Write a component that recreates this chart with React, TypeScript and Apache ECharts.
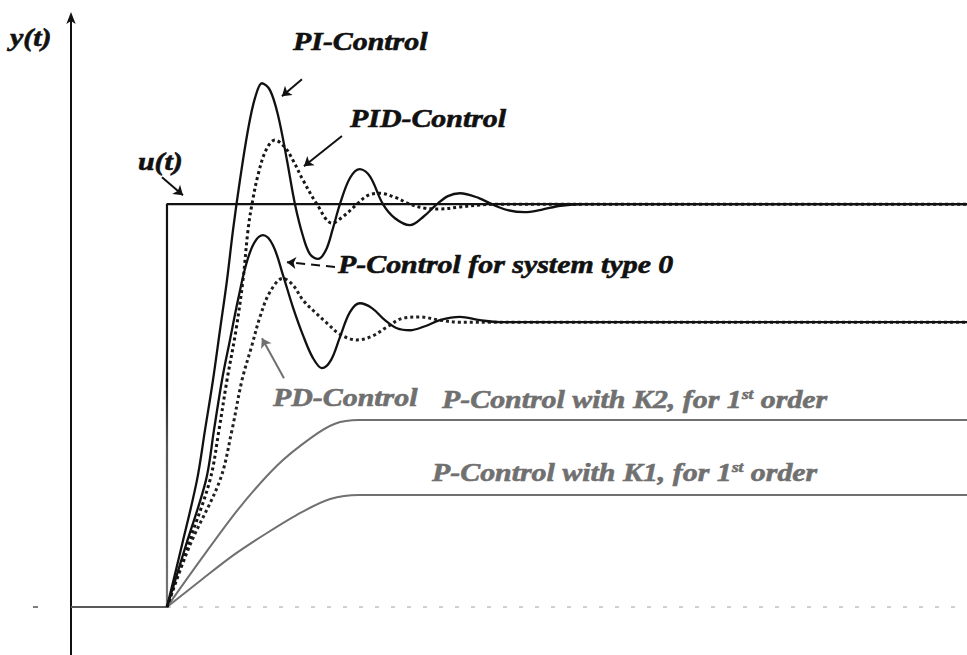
import React, { useEffect, useRef } from "react";
import * as echarts from "echarts";

// Time axis (arbitrary units, step applied at t = 0) and normalized response (u = 1)
const T_START = -2;
const T_END = 16.67;
const Y_LOW = -0.119;
const Y_HIGH = 1.462;

const baselineBefore: number[][] = [[-2, 0], [0, 0]];
const baselineAfter: number[][] = [[0, 0], [16.67, 0]];
const inputStep: number[][] = [[0, 0], [0, 1], [16.67, 1]];

const piControl: number[][] = [
  [0, 0], [0.3125, 0.154], [0.625, 0.315], [0.792, 0.439], [0.958, 0.563], [1.104, 0.687],
  [1.25, 0.811], [1.375, 0.935], [1.521, 1.06], [1.6875, 1.184], [1.833, 1.263], [1.979, 1.3],
  [2.146, 1.283], [2.3125, 1.221], [2.5, 1.109], [2.667, 1.0], [2.833, 0.921], [2.979, 0.876],
  [3.146, 0.864], [3.3125, 0.886], [3.458, 0.94], [3.604, 1.0], [3.8125, 1.065], [4.021, 1.087],
  [4.229, 1.069], [4.5, 1.0], [4.75, 0.965], [5.0625, 0.948], [5.354, 0.97], [5.625, 1.0],
  [5.854, 1.02], [6.104, 1.027], [6.5, 1.015], [6.8, 0.998], [7.1, 0.985], [7.45, 0.98],
  [7.8, 0.986], [8.2, 0.996], [8.7, 1.0], [16.67, 1.0],
];

const pidControl: number[][] = [
  [0, 0], [0.4375, 0.154], [0.896, 0.315], [1.083, 0.439], [1.25, 0.563], [1.4375, 0.687],
  [1.583, 0.811], [1.6875, 0.935], [1.771, 1.0], [1.896, 1.072], [2.0625, 1.134], [2.25, 1.159],
  [2.458, 1.141], [2.625, 1.109], [2.833, 1.06], [3.125, 1.0], [3.4375, 0.953], [3.708, 0.973],
  [3.958, 1.0], [4.1875, 1.022], [4.4375, 1.027], [4.75, 1.017], [5.0625, 1.0], [5.375, 0.99],
  [5.6875, 0.988], [6.104, 0.993], [6.521, 0.998], [7.0, 1.0], [16.67, 1.0],
];

const pType0: number[][] = [
  [0, 0], [0.396, 0.154], [0.8125, 0.315], [0.979, 0.439], [1.146, 0.563], [1.3125, 0.663],
  [1.479, 0.762], [1.646, 0.849], [1.8125, 0.903], [2.0, 0.923], [2.208, 0.898], [2.417, 0.824],
  [2.625, 0.744], [2.833, 0.675], [3.042, 0.618], [3.229, 0.593], [3.417, 0.613], [3.604, 0.67],
  [3.8125, 0.732], [4.021, 0.754], [4.271, 0.742], [4.542, 0.712], [4.792, 0.692], [5.0625, 0.687],
  [5.375, 0.697], [5.6875, 0.712], [6.104, 0.72], [6.521, 0.712], [6.9375, 0.707], [16.67, 0.707],
];

const pdControl: number[][] = [
  [0, 0], [0.479, 0.154], [1.104, 0.315], [1.354, 0.439], [1.5625, 0.563], [1.771, 0.65],
  [1.9375, 0.72], [2.146, 0.782], [2.417, 0.816], [2.625, 0.799], [2.833, 0.762], [3.083, 0.732],
  [3.333, 0.705], [3.604, 0.677], [3.958, 0.663], [4.271, 0.672], [4.583, 0.695], [4.917, 0.717],
  [5.271, 0.72], [5.6875, 0.712], [6.104, 0.707], [16.67, 0.707],
];

const pK2: number[][] = [
  [0, 0], [0.7, 0.117], [1.5, 0.245], [2.3, 0.352], [3.0, 0.42], [3.5, 0.455],
  [4.0, 0.464], [16.67, 0.464],
];

const pK1: number[][] = [
  [0, 0], [0.7, 0.066], [1.4, 0.13], [2.1, 0.185], [2.8, 0.235],
  [3.4, 0.268], [4.0, 0.278], [16.67, 0.278],
];

// Annotation arrows: [from, to] in data coordinates
const arrowPI = [[2.8125, 1.31], [2.396, 1.268]];
const arrowPID = [[3.646, 1.169], [2.854, 1.094]];
const arrowU = [[-0.104, 1.067], [0.333, 1.022]];
const arrowType0 = [[3.5, 0.844], [2.5, 0.856]];
const arrowPD = [[2.4375, 0.568], [1.979, 0.667]];

const FONT_FAMILY = '"Liberation Serif", "DejaVu Serif", serif';
const BLACK = "#111111";
const GRAY = "#707070";

function lineSeries(name: string, data: number[][], color: any, width: number, dashed: boolean, smooth: number | boolean) {
  return {
    name,
    type: "line",
    data,
    showSymbol: false,
    symbol: "none",
    smooth,
    silent: true,
    clip: false,
    lineStyle: {
      color,
      width,
      type: dashed ? [3, 3] : "solid",
      cap: "butt",
    },
  };
}

function arrowItem(pair: number[][], color: string, dash: any) {
  const ls = { color, width: 2, type: dash };
  return [
    { coord: pair[0], symbol: "none", lineStyle: ls },
    { coord: pair[1], symbol: "arrow", lineStyle: ls },
  ];
}

function label(text: string, x: number, y: number, color: string) {
  return {
    type: "text",
    x,
    y,
    scaleX: 1.15,
    silent: true,
    style: {
      text,
      fill: color,
      stroke: color,
      lineWidth: 0.6,
      font: `italic bold 26px ${FONT_FAMILY}`,
      align: "left",
      verticalAlign: "middle",
    },
  };
}

function supLabel(main: string, num: string, tail: string, x: number, y: number, color: string) {
  const base = { fontStyle: "italic", fontWeight: "bold", fontSize: 26, fontFamily: FONT_FAMILY, fill: color };
  return {
    type: "text",
    x,
    y,
    scaleX: 1.15,
    silent: true,
    style: {
      text: `{a|${main}${num}}{s|st}{a|${tail}}`,
      fill: color,
      stroke: color,
      lineWidth: 0.6,
      font: `italic bold 26px ${FONT_FAMILY}`,
      align: "left",
      verticalAlign: "middle",
      rich: {
        a: base,
        s: { ...base, fontSize: 15, verticalAlign: "top", lineHeight: 15 },
      },
    },
  };
}

export default function App() {
  const ref = useRef<HTMLDivElement>(null);

  useEffect(() => {
    document.body.style.margin = "0";
    if (!ref.current) return;
    const chart = echarts.init(ref.current, undefined, { renderer: "svg" });

    const stepGradient = new echarts.graphic.LinearGradient(0, 0, 0, 1, [
      { offset: 0, color: BLACK },
      { offset: 0.45, color: "#1a1a1a" },
      { offset: 0.6, color: "#555555" },
      { offset: 1, color: "#777777" },
    ]);

    chart.setOption({
      animation: false,
      backgroundColor: "#ffffff",
      grid: { left: 71, right: 0, top: 18, bottom: 0, containLabel: false },
      xAxis: {
        type: "value",
        min: T_START,
        max: T_END,
        show: false,
      },
      yAxis: {
        type: "value",
        min: Y_LOW,
        max: Y_HIGH,
        axisLine: {
          show: true,
          onZero: false,
          symbol: ["none", "arrow"],
          symbolSize: [7, 12],
          symbolOffset: [0, 6],
          lineStyle: { color: BLACK, width: 2 },
        },
        axisTick: { show: false },
        axisLabel: { show: false },
        splitLine: { show: false },
      },
      series: [
        {
          ...lineSeries("baseline-after", baselineAfter, "#9a9a9a", 1, false, false),
          lineStyle: { color: "#a0a0a0", width: 1, type: [4, 12] },
          markLine: {
            silent: true,
            symbolSize: 9,
            label: { show: false },
            data: [
              arrowItem(arrowPI, BLACK, "solid"),
              arrowItem(arrowPID, BLACK, "solid"),
              arrowItem(arrowU, BLACK, "solid"),
              arrowItem(arrowType0, BLACK, [9, 6]),
              arrowItem(arrowPD, GRAY, "solid"),
            ],
          },
        },
        lineSeries("baseline-before", baselineBefore, "#5a5a5a", 2, false, false),
        lineSeries("u(t)", inputStep, stepGradient, 2.2, false, false),
        lineSeries("P-Control with K1, for 1st order", pK1, GRAY, 2, false, 0.3),
        lineSeries("P-Control with K2, for 1st order", pK2, GRAY, 2, false, 0.3),
        lineSeries("PD-Control", pdControl, "#202020", 3, true, 0.35),
        lineSeries("P-Control for system type 0", pType0, BLACK, 2.3, false, 0.35),
        lineSeries("PID-Control", pidControl, "#151515", 3, true, 0.35),
        lineSeries("PI-Control", piControl, BLACK, 2.3, false, 0.35),
      ],
      graphic: [
        label("y(t)", 10, 37, BLACK),
        label("PI-Control", 293, 41, BLACK),
        label("PID-Control", 350, 118, BLACK),
        label("u(t)", 138, 161, BLACK),
        label("P-Control for system type 0", 338, 264, BLACK),
        label("PD-Control", 273, 397, GRAY),
        supLabel("P-Control with K2, for ", "1", " order", 442, 399, GRAY),
        supLabel("P-Control with K1, for ", "1", " order", 432, 472, GRAY),
        {
          type: "line",
          silent: true,
          shape: { x1: 33, y1: 607, x2: 38, y2: 607 },
          style: { stroke: "#555555", lineWidth: 1.5 },
        },
      ],
    });

    return () => chart.dispose();
  }, []);

  return <div ref={ref} style={{ width: 967, height: 655 }} />;
}
